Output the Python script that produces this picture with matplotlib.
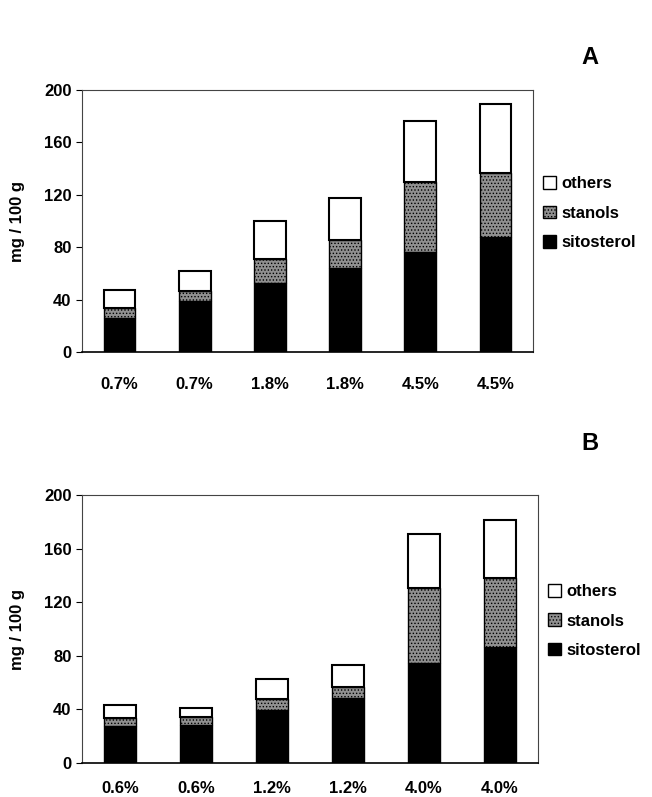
import numpy as np
import matplotlib.pyplot as plt
from matplotlib.patches import Patch

plt.rcParams['font.family'] = ['Liberation Sans', 'DejaVu Sans']
plt.rcParams['font.weight'] = 'bold'
plt.rcParams['hatch.color'] = '#5a5a5a'
plt.rcParams['hatch.linewidth'] = 0.6

labels_a = ['0.7%', '0.7%', '1.8%', '1.8%', '4.5%', '4.5%']
sito_a = [26.2, 39.0, 52.5, 64.2, 76.2, 87.9]
stanol_a = [7.2, 7.6, 18.3, 21.4, 53.2, 49.1]
other_a = [13.7, 15.6, 29.2, 31.6, 47.2, 52.3]

labels_b = ['0.6%', '0.6%', '1.2%', '1.2%', '4.0%', '4.0%']
sito_b = [27.7, 28.0, 39.3, 48.2, 74.4, 86.3]
stanol_b = [5.8, 6.0, 8.1, 8.8, 56.5, 51.9]
other_b = [10.1, 7.1, 15.4, 16.4, 39.8, 43.4]

fig = plt.figure(figsize=(6.52, 7.97), dpi=100)
W, H = 652, 797
gray = '#909090'


def panel(rect, labels, sito, stanol, other, letter, letter_y, pad):
    l, t, r, b = rect
    ax = fig.add_axes([l / W, 1 - b / H, (r - l) / W, (b - t) / H])
    x = np.arange(len(labels))
    w = 0.42
    sito = np.array(sito)
    stanol = np.array(stanol)
    other = np.array(other)
    ax.bar(x, sito, w, color='black', edgecolor='black', linewidth=1)
    ax.bar(x, stanol, w, bottom=sito, color=gray, edgecolor='black', linewidth=1,
           hatch='.....')
    ax.bar(x, other, w, bottom=sito + stanol, color='white', edgecolor='black', linewidth=1.5)
    ax.set_xlim(-0.5, len(labels) - 0.5)
    ax.set_ylim(0, 200)
    ax.set_yticks([0, 40, 80, 120, 160, 200])
    ax.set_xticks(x)
    ax.set_xticklabels(labels, fontsize=12, fontweight='bold')
    ax.tick_params(axis='x', length=0, pad=pad)
    ax.tick_params(axis='y', labelsize=12, length=4, direction='out')
    for lab in ax.get_yticklabels():
        lab.set_fontweight('bold')
    for s in ax.spines.values():
        s.set_linewidth(0.8)
        s.set_color('#444444')
    ax.spines['bottom'].set_linewidth(1.2)
    ax.spines['bottom'].set_color('black')
    ax.set_ylabel('mg / 100 g', fontsize=12, fontweight='bold', labelpad=14)
    handles = [Patch(facecolor='white', edgecolor='black'),
               Patch(facecolor=gray, edgecolor='black', hatch='.....'),
               Patch(facecolor='black', edgecolor='black')]
    ax.legend(handles, ['others', 'stanols', 'sitosterol'], loc='center left',
              bbox_to_anchor=(1.0, 0.53), frameon=False,
              handlelength=0.8, handleheight=0.8, handletextpad=0.3,
              labelspacing=0.85, borderaxespad=0.2, prop={'weight': 'bold', 'size': 12})
    fig.text(590 / W, 1 - letter_y / H, letter, fontsize=17, fontweight='bold',
             ha='center', va='center')
    return ax


panel((82, 90, 533, 352), labels_a, sito_a, stanol_a, other_a, 'A', 58, 18)
panel((82, 495, 538, 763), labels_b, sito_b, stanol_b, other_b, 'B', 443, 13)

fig.savefig('out.png', dpi=100)
